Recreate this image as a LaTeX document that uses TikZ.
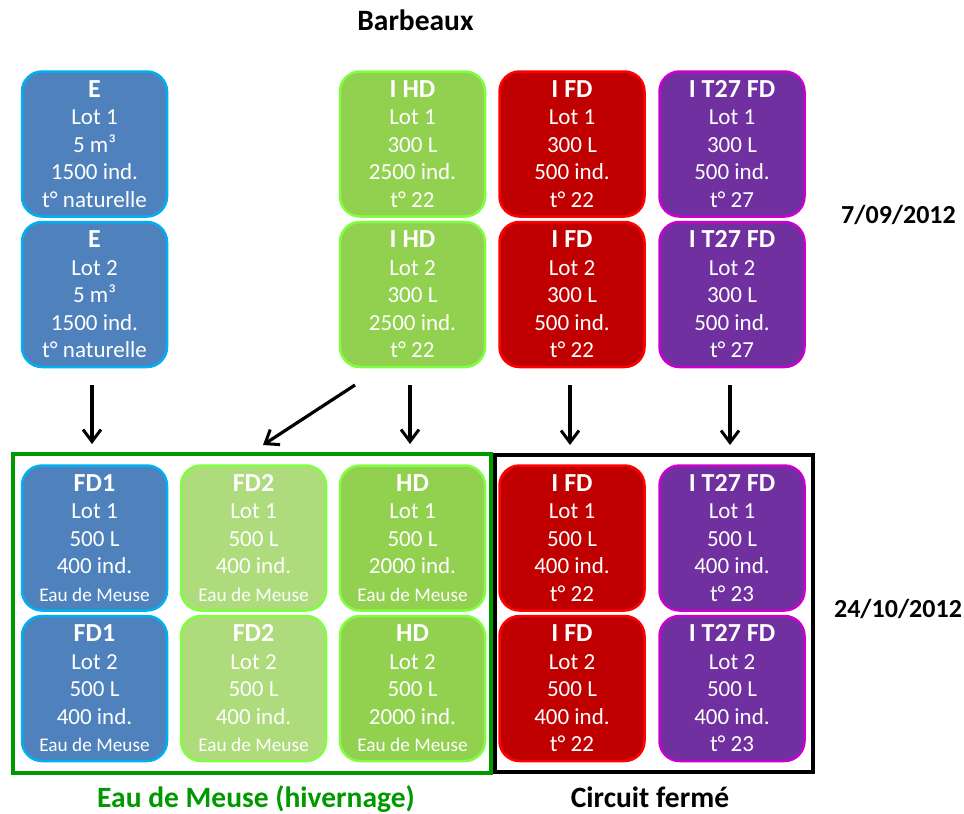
\documentclass[tikz,border=0pt]{standalone}
\usepackage{fontspec}
\setmainfont{Carlito}
\usetikzlibrary{arrows.meta}
\definecolor{bfill}{HTML}{4F81BD}
\definecolor{bline}{HTML}{00B0F0}
\definecolor{gfill}{HTML}{92D050}
\definecolor{glight}{HTML}{AEDB7C}
\definecolor{gline}{HTML}{80FF40}
\definecolor{rfill}{HTML}{C00000}
\definecolor{rline}{HTML}{FF0000}
\definecolor{pfill}{HTML}{7030A0}
\definecolor{pline}{HTML}{CC00CC}
\definecolor{frgreen}{HTML}{009900}
\tikzset{
  tank/.style={rounded corners=20pt, line width=2.5pt, minimum width=145pt, minimum height=145pt,
    inner sep=0pt, align=center, text=white, font=\fontsize{23}{27.5}\selectfont},
  bluetank/.style={tank, fill=bfill, draw=bline},
  greentank/.style={tank, fill=gfill, draw=gline},
  lighttank/.style={tank, fill=glight, draw=gline},
  redtank/.style={tank, fill=rfill, draw=rline},
  purpletank/.style={tank, fill=pfill, draw=pline},
  frame/.style={line width=4pt, inner sep=0pt},
  arr/.style={line width=3.2pt, -{Straight Barb[length=12pt,width=18pt,line width=3pt]}},
  lbl/.style={font=\fontsize{29.5}{34}\selectfont\bfseries, inner sep=0pt},
  datelbl/.style={font=\fontsize{26}{32}\selectfont\bfseries, inner sep=0pt}
}
\newcommand{\ttl}[1]{{\fontsize{26}{27.5}\selectfont\bfseries #1}}
\newcommand{\sml}[1]{{\fontsize{19.3}{27.5}\selectfont #1}}
\begin{document}
\begin{tikzpicture}[x=1pt,y=-1pt]
\useasboundingbox (0,0) rectangle (964,814);
% frames
\node[frame, draw=frgreen, minimum width=478pt, minimum height=319pt] (gframe) at (252,613.5) {};
\node[frame, draw=black, minimum width=318pt, minimum height=317pt] (kframe) at (654,613.5) {};
% top row
\node[bluetank] (e1) at (94.5,144) {\ttl{E}\\Lot 1\\5 m³\\1500 ind.\\t° naturelle};
\node[bluetank] (e2) at (94.5,294.5) {\ttl{E}\\Lot 2\\5 m³\\1500 ind.\\t° naturelle};
\node[greentank] (ihd1) at (412.5,144) {\ttl{I HD}\\Lot 1\\300 L\\2500 ind.\\t° 22};
\node[greentank] (ihd2) at (412.5,294.5) {\ttl{I HD}\\Lot 2\\300 L\\2500 ind.\\t° 22};
\node[redtank] (ifd1) at (572,144) {\ttl{I FD}\\Lot 1\\300 L\\500 ind.\\t° 22};
\node[redtank] (ifd2) at (572,294.5) {\ttl{I FD}\\Lot 2\\300 L\\500 ind.\\t° 22};
\node[purpletank] (it1) at (732,144) {\ttl{I T27 FD}\\Lot 1\\300 L\\500 ind.\\t° 27};
\node[purpletank] (it2) at (732,294.5) {\ttl{I T27 FD}\\Lot 2\\300 L\\500 ind.\\t° 27};
% bottom row
\node[bluetank] (fda) at (94.5,538) {\ttl{FD1}\\Lot 1\\500 L\\400 ind.\\\sml{Eau de Meuse}};
\node[bluetank] (fdb) at (94.5,688.5) {\ttl{FD1}\\Lot 2\\500 L\\400 ind.\\\sml{Eau de Meuse}};
\node[lighttank] (fdc) at (253.5,538) {\ttl{FD2}\\Lot 1\\500 L\\400 ind.\\\sml{Eau de Meuse}};
\node[lighttank] (fdd) at (253.5,688.5) {\ttl{FD2}\\Lot 2\\500 L\\400 ind.\\\sml{Eau de Meuse}};
\node[greentank] (hda) at (412.5,538) {\ttl{HD}\\Lot 1\\500 L\\2000 ind.\\\sml{Eau de Meuse}};
\node[greentank] (hdb) at (412.5,688.5) {\ttl{HD}\\Lot 2\\500 L\\2000 ind.\\\sml{Eau de Meuse}};
\node[redtank] (cfa) at (572,538) {\ttl{I FD}\\Lot 1\\500 L\\400 ind.\\t° 22};
\node[redtank] (cfb) at (572,688.5) {\ttl{I FD}\\Lot 2\\500 L\\400 ind.\\t° 22};
\node[purpletank] (cpa) at (732,538) {\ttl{I T27 FD}\\Lot 1\\500 L\\400 ind.\\t° 23};
\node[purpletank] (cpb) at (732,688.5) {\ttl{I T27 FD}\\Lot 2\\500 L\\400 ind.\\t° 23};
% labels
\node[lbl] (barb) at (415.5,20) {Barbeaux};
\node[datelbl] (d1) at (898.5,215) {7/09/2012};
\node[datelbl] (d2) at (898,609) {24/10/2012};
\node[lbl, text=frgreen] (gl) at (256,799) {Eau de Meuse (hivernage)};
\node[lbl] (kl) at (650,797) {Circuit fermé};
% arrows
\draw[arr] ([xshift=-2.5pt,yshift=-17pt]e2.south) -- ([xshift=-2.5pt,yshift=8pt]gframe.north west -| e2.south);
\coordinate (ds) at (355,385);
\coordinate (de) at (263,445);
\draw[arr] (ds) -- (de);
\draw[arr] ([xshift=-2.5pt,yshift=-17pt]ihd2.south) -- ([xshift=-2.5pt,yshift=8pt]gframe.north west -| ihd2.south);
\draw[arr] ([xshift=-2pt,yshift=-17pt]ifd2.south) -- ([xshift=-2pt,yshift=8pt]kframe.north west -| ifd2.south);
\draw[arr] ([xshift=-2pt,yshift=-17pt]it2.south) -- ([xshift=-2pt,yshift=8pt]kframe.north west -| it2.south);
\end{tikzpicture}
\end{document}
